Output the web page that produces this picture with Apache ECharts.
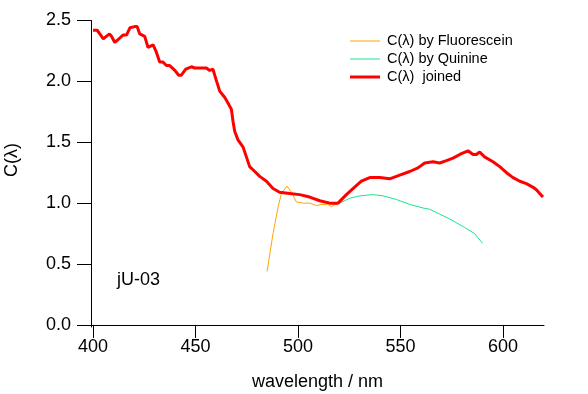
<!DOCTYPE html>
<html><head><meta charset="utf-8">
<script src="https://cdn.jsdelivr.net/npm/echarts@6/dist/echarts.min.js"></script>
<style>html,body{margin:0;padding:0;background:#fff}#c{width:588px;height:394px}</style>
</head><body><div id="c"></div>
<script>
var xTicks = [400, 450, 500, 550, 600];
var yTicks = [0, 0.5, 1.0, 1.5, 2.0, 2.5];

var joinedX = [400,402,403.3,405,406.5,408,409,410.6,412,414.6,416.3,418,420.3,421.5,422.8,425.2,426.8,427.7,429.3,430.9,432.5,434,435.8,437.4,439.9,441.8,443,445.2,448,449.6,453.7,455.3,456.9,458.5,460.1,461.8,464.2,465.9,467.5,468.3,469.1,470.7,473.2,474.8,476.4,478.9,481.3,484.6,487.8,491,495.9,500.8,505.7,510.6,515.5,519.5,523.6,526.8,530.9,535,539.9,544.7,549.6,554.5,558.5,561.8,565.9,569.1,572.4,575.6,578.9,582.9,585.4,587,588.6,591,595.1,598.4,601.7,604.9,608.2,611.4,614.7,616.3,617.9,619.5];
var joinedY = [2.42,2.42,2.39,2.35,2.37,2.39,2.37,2.32,2.34,2.38,2.38,2.44,2.45,2.45,2.39,2.37,2.28,2.27,2.30,2.24,2.16,2.16,2.13,2.13,2.09,2.05,2.05,2.10,2.12,2.11,2.11,2.11,2.09,2.10,2.01,1.92,1.87,1.82,1.77,1.67,1.59,1.52,1.46,1.38,1.30,1.26,1.22,1.18,1.12,1.09,1.08,1.07,1.05,1.02,1.00,1.00,1.07,1.12,1.18,1.21,1.21,1.20,1.23,1.26,1.29,1.33,1.34,1.33,1.35,1.37,1.40,1.43,1.40,1.40,1.42,1.38,1.34,1.30,1.25,1.21,1.18,1.16,1.13,1.11,1.08,1.05];

var fluorX = [484.9,487.8,490.3,491.9,494.6,496.8,499.2,502.5,505.7,509,511.4,514.6,516.3,517.9,519];
var fluorY = [0.44,0.75,0.97,1.08,1.14,1.09,1.01,1.00,1.00,0.98,0.99,0.99,0.97,0.99,0.99];

var quinX = [518,520.3,525.2,530.1,536.6,541.5,548,554.5,561,564.2,569.1,574,581.3,586.2,590];
var quinY = [1.00,1.00,1.04,1.06,1.07,1.06,1.03,0.99,0.96,0.95,0.91,0.87,0.80,0.75,0.67];

var seriesNames = ['C(λ) by Fluorescein', 'C(λ) by Quinine', 'C(λ)  joined'];

function pairs(xs, ys){ return xs.map(function(x,i){ return [x, ys[i]]; }); }

var FONT = 'Liberation Sans, Arial, sans-serif';
var THIN = 'path://M0,0L30,0L30,1L0,1Z';
var THICK = 'path://M0,0L30,0L30,3L0,3Z';
var chart = echarts.init(document.getElementById('c'), null, {renderer:'canvas'});
chart.setOption({
  animation: false,
  backgroundColor: '#fff',
  grid: {left: 91, right: 44, top: 20.5, bottom: 67, containLabel: false, outerBoundsMode: 'none'},
  xAxis: {
    type: 'value', min: 399, max: 620,
    name: 'wavelength / nm', nameLocation: 'middle', nameGap: 46,
    nameTextStyle: {fontFamily: FONT, fontSize: 18, color: '#000'},
    axisLine: {lineStyle: {color: '#000', width: 1}},
    axisTick: {show: true, length: 13, customValues: xTicks, lineStyle: {color: '#000'}},
    axisLabel: {customValues: xTicks, fontFamily: FONT, fontSize: 18, color: '#000', margin: 11},
    splitLine: {show: false}
  },
  yAxis: {
    type: 'value', min: -0.017, max: 2.5,
    axisLine: {show: true, lineStyle: {color: '#000', width: 1}},
    axisTick: {show: true, length: 14, customValues: yTicks, lineStyle: {color: '#000'}},
    axisLabel: {customValues: yTicks, fontFamily: FONT, fontSize: 18, color: '#000', margin: 20,
      formatter: function(v){ return v.toFixed(1); }},
    splitLine: {show: false}
  },
  legend: {
    orient: 'vertical', left: 345, top: 28, itemWidth: 30, itemHeight: 10, itemGap: 2,
    padding: 5,
    textStyle: {fontFamily: FONT, fontSize: 14.5, color: '#000', lineHeight: 16, padding: [0, 0, 0, 2]},
    data: [
      {name: seriesNames[0], icon: THIN},
      {name: seriesNames[1], icon: THIN},
      {name: seriesNames[2], icon: THICK}
    ]
  },
  graphic: [
    {type: 'text', left: 117, top: 271, style: {text: 'jU-03', font: '18px ' + FONT, fill: '#000'}},
    {type: 'text', x: 3, y: 160, rotation: Math.PI/2, style: {text: 'C(λ)', font: '18px ' + FONT, fill: '#000', align: 'center', verticalAlign: 'top'}}
  ],
  series: [
    {name: seriesNames[0], type: 'line', data: pairs(fluorX, fluorY), symbol: 'none', symbolKeepAspect: true,
      lineStyle: {color: '#FFA500', width: 1}, itemStyle: {color: '#FFA500'}},
    {name: seriesNames[1], type: 'line', data: pairs(quinX, quinY), symbol: 'none', symbolKeepAspect: true,
      lineStyle: {color: '#19E68C', width: 1}, itemStyle: {color: '#19E68C'}},
    {name: seriesNames[2], type: 'line', data: pairs(joinedX, joinedY), symbol: 'none', symbolKeepAspect: true,
      lineStyle: {color: '#FF0000', width: 3}, itemStyle: {color: '#FF0000'}}
  ]
});
</script></body></html>
